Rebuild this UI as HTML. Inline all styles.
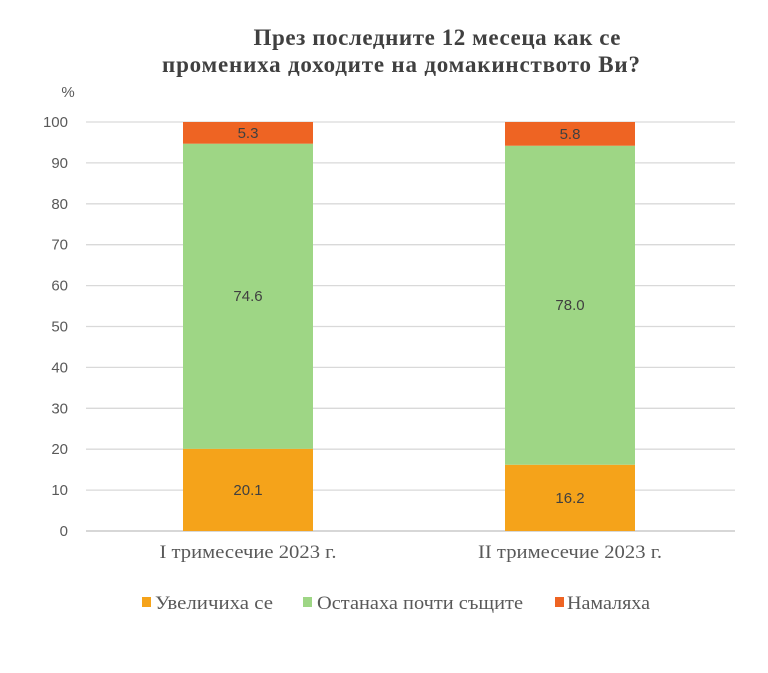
<!DOCTYPE html>
<html><head><meta charset="utf-8"><style>
body{margin:0;background:#fff;width:768px;height:668px;overflow:hidden}
svg text{font-family:"Liberation Sans",sans-serif}
</style></head><body>
<svg width="768" height="668">
<text x="437" y="45" text-anchor="middle" textLength="367" lengthAdjust="spacing" font-weight="bold" font-size="23" fill="#404040" style="font-family:'Liberation Serif',serif">През последните 12 месеца как се</text>
<text x="401" y="72" text-anchor="middle" textLength="478" lengthAdjust="spacing" font-weight="bold" font-size="23" fill="#404040" style="font-family:'Liberation Serif',serif">промениха доходите на домакинството Ви?</text>
<text x="68" y="97" text-anchor="middle" font-size="15" fill="#595959">%</text>
<g id="grid"></g><g id="bars"></g><g id="labels"></g>
<g>
<rect x="142" y="597" width="9" height="10" fill="#F5A31A"/>
<text x="155" y="609" font-size="19" textLength="118" lengthAdjust="spacingAndGlyphs" fill="#595959" style="font-family:'Liberation Serif',serif">Увеличиха се</text>
<rect x="303" y="597" width="9" height="10" fill="#9ED685"/>
<text x="317" y="609" font-size="19" textLength="206" lengthAdjust="spacingAndGlyphs" fill="#595959" style="font-family:'Liberation Serif',serif">Останаха почти същите</text>
<rect x="555" y="597" width="9" height="10" fill="#EE6423"/>
<text x="567" y="609" font-size="19" textLength="83" lengthAdjust="spacingAndGlyphs" fill="#595959" style="font-family:'Liberation Serif',serif">Намаляха</text>
</g>
</svg>
<script>
const categories=["I тримесечие 2023 г.","II тримесечие 2023 г."];
const increased=[20.1,16.2];
const same=[74.6,78.0];
const decreased=[5.3,5.8];
const yTicks=[0,10,20,30,40,50,60,70,80,90,100];
const NS="http://www.w3.org/2000/svg";
const y=v=>531-v*4.09;
const xc=i=>248+i*322;
function mk(t,a,p){const e=document.createElementNS(NS,t);for(const k in a)e.setAttribute(k,a[k]);p.appendChild(e);return e;}
const g=document.getElementById('grid'),b=document.getElementById('bars'),l=document.getElementById('labels');
yTicks.forEach(t=>{
 const ln=mk('line',{x1:86,x2:735,y1:y(t),y2:y(t),stroke:t===0?'#bfbfbf':'#d9d9d9','stroke-width':1.3},g);
 
 
 const tx=mk('text',{x:68,y:y(t)+5,'text-anchor':'end','font-size':15,fill:'#595959'},g);tx.textContent=t;
 
 
});
const series=[[increased,'#F5A31A','increased'],[same,'#9ED685','same'],[decreased,'#EE6423','decreased']];
categories.forEach((c,i)=>{
 let base=0;
 series.forEach(([arr,col,nm])=>{
  const v=arr[i];
  const r=mk('rect',{x:xc(i)-65,width:130,y:y(base+v),height:v*4.09,fill:col},b);
  
  
  const t=mk('text',{x:xc(i),y:y(base+v/2)+5,'text-anchor':'middle','font-size':15,fill:'#404040'},l);
  t.textContent=v.toFixed(1);
  
  
  base+=v;
 });
 const ct=mk('text',{x:xc(i),y:558,'text-anchor':'middle','font-size':19,textLength:i===0?177:184,lengthAdjust:'spacingAndGlyphs',fill:'#595959',style:"font-family:'Liberation Serif',serif"},l);
 ct.textContent=c;
 
 
});
</script>
</body></html>
